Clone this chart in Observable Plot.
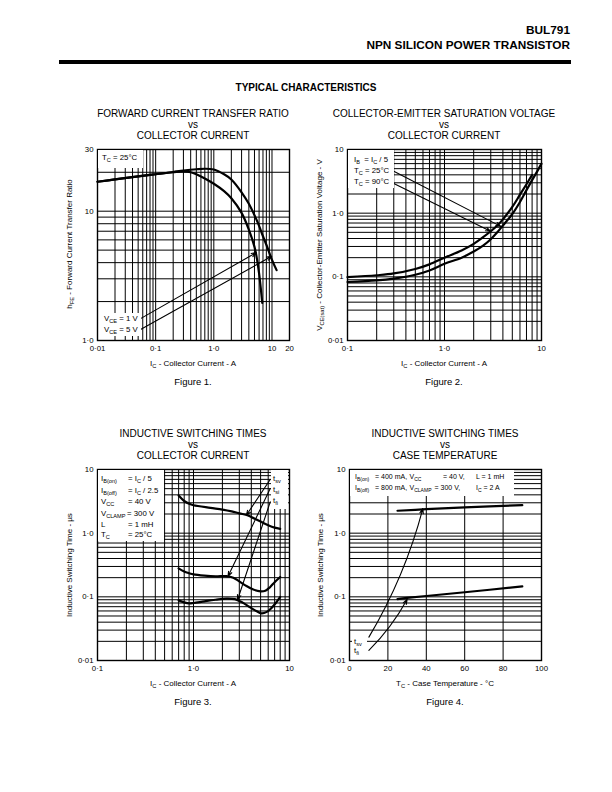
<!DOCTYPE html>
<html>
<head>
<meta charset="utf-8">
<script src="https://cdn.jsdelivr.net/npm/d3@7"></script>
<script src="https://cdn.jsdelivr.net/npm/@observablehq/plot@0.6"></script>
<style>
html,body{margin:0;padding:0;background:#fff}
#page{position:relative;width:612px;height:792px;overflow:hidden;font-family:"Liberation Sans",Arial,Helvetica,sans-serif;color:#000}
.t{position:absolute;white-space:nowrap;line-height:1.2}
sub{font-size:72%;vertical-align:-0.3em;line-height:0}
.box{position:absolute;background:#fff}
</style>
</head>
<body><div id="page"></div>
<script>
// ---------- Figure 1: hFE vs IC ----------
const fig1CurrentVce5 = [0.01, 0.02, 0.05, 0.1, 0.2, 0.3, 0.5, 0.7, 1.0, 1.5, 2.0, 3.0, 4.0, 5.0, 6.0, 7.0, 8.0, 10, 12];
const fig1HfeVce5     = [16.9, 17.6, 18.6, 19.3, 20.1, 20.6, 21.1, 21.3, 21.0, 19.3, 17.6, 14.0, 11.4, 9.3, 7.7, 6.4, 5.5, 4.2, 3.5];
const fig1CurrentVce1 = [0.01, 0.02, 0.05, 0.1, 0.2, 0.3, 0.4, 0.5, 0.7, 1.0, 1.5, 2.0, 3.0, 4.0, 5.0, 5.5, 6.0, 6.5, 6.8];
const fig1HfeVce1     = [16.9, 17.6, 18.6, 19.3, 20.0, 20.3, 20.0, 19.3, 17.9, 16.3, 14.3, 12.6, 9.7, 7.2, 5.3, 4.3, 3.3, 2.4, 1.95];
const fig1ArrowFrom = [[0.054, 1.47], [0.054, 1.21]];
const fig1ArrowTo   = [[5.35, 4.78], [9.9, 4.48]];
const fig1XTicks = [0.01, 0.1, 1, 10, 20];
const fig1XTickLabels = ["0·01", "0·1", "1·0", "10", "20"];
const fig1YTicks = [1, 10, 30];
const fig1YTickLabels = ["1·0", "10", "30"];

// ---------- Figure 2: VCE(sat) vs IC ----------
const fig2Current90 = [0.1, 0.2, 0.3, 0.5, 0.7, 1.0, 1.5, 2.0, 2.5, 3.0, 3.5, 4.0, 5.0, 6.0, 7.0, 8.0];
const fig2Vce90     = [0.099, 0.106, 0.113, 0.133, 0.157, 0.2, 0.26, 0.33, 0.42, 0.52, 0.64, 0.8, 1.25, 1.95, 2.85, 4.0];
const fig2Current25 = [0.1, 0.2, 0.3, 0.5, 0.7, 1.0, 1.5, 2.0, 2.5, 3.0, 3.5, 4.0, 5.0, 6.0, 7.0, 8.0, 9.0, 10];
const fig2Vce25     = [0.083, 0.088, 0.094, 0.108, 0.126, 0.16, 0.2, 0.25, 0.31, 0.39, 0.5, 0.64, 0.97, 1.5, 2.3, 3.3, 4.5, 6.0];
const fig2ArrowFrom = [[0.3, 4.56], [0.3, 2.92]];
const fig2ArrowTo   = [[3.8, 0.62], [2.98, 0.52]];
const fig2XTicks = [0.1, 1, 10];
const fig2XTickLabels = ["0·1", "1·0", "10"];
const fig2YTicks = [0.01, 0.1, 1, 10];
const fig2YTickLabels = ["0·01", "0·1", "1·0", "10"];

// ---------- Figure 3: switching times vs IC ----------
const fig3CurrentTsv = [0.7, 0.8, 0.9, 1.0, 1.5, 2.0, 2.5, 3.0, 3.7, 4.3, 5.0, 6.0, 7.0, 8.0];
const fig3Tsv        = [3.9, 3.2, 2.9, 2.75, 2.5, 2.35, 2.2, 2.05, 1.9, 1.7, 1.52, 1.33, 1.22, 1.17];
const fig3CurrentTsi = [0.7, 0.8, 0.9, 1.0, 1.3, 1.7, 2.2, 2.6, 3.0, 3.5, 4.2, 5.0, 5.6, 6.3, 7.0, 8.0];
const fig3Tsi        = [0.28, 0.25, 0.235, 0.225, 0.215, 0.21, 0.212, 0.2, 0.175, 0.15, 0.13, 0.122, 0.125, 0.143, 0.17, 0.205];
const fig3CurrentTfi = [0.7, 0.8, 0.9, 1.0, 1.3, 1.7, 2.2, 2.7, 3.2, 3.8, 4.5, 5.1, 5.8, 6.5, 7.2, 8.0];
const fig3Tfi        = [0.088, 0.082, 0.079, 0.08, 0.085, 0.09, 0.094, 0.092, 0.082, 0.07, 0.06, 0.055, 0.058, 0.067, 0.08, 0.1];
const fig3ArrowFrom = [[6.3, 6.97], [6.3, 5.02], [6.3, 3.1]];
const fig3ArrowTo   = [[3.55, 1.91], [2.29, 0.21], [2.88, 0.09]];
const fig3XTicks = [0.1, 1, 10];
const fig3XTickLabels = ["0·1", "1·0", "10"];
const fig3YTicks = [0.01, 0.1, 1, 10];
const fig3YTickLabels = ["0·01", "0·1", "1·0", "10"];

// ---------- Figure 4: switching times vs TC ----------
const fig4TempTsv = [25, 40, 60, 90];
const fig4Tsv     = [2.25, 2.38, 2.55, 2.75];
const fig4TempTfi = [25, 30, 40, 60, 90];
const fig4Tfi     = [0.092, 0.096, 0.103, 0.118, 0.146];
const fig4ArrowFrom = [[10.1, 0.0233], [10.1, 0.0144]];
const fig4ArrowTo   = [[38.2, 2.43], [30.0, 0.091]];
const fig4XTicks = [0, 20, 40, 60, 80, 100];
const fig4XTickLabels = ["0", "20", "40", "60", "80", "100"];
const fig4XGrid = [20, 40, 60, 80];
const fig4YTicks = [0.01, 0.1, 1, 10];
const fig4YTickLabels = ["0·01", "0·1", "1·0", "10"];

// ---------- helpers ----------
const page = document.getElementById("page");
const FONT = '"Liberation Sans", Arial, Helvetica, sans-serif';
const LS = 7.8;   // legend / annotation size
const AS = 8;     // axis title size

function text(html, x, cy, size, opts = {}) {
  const d = document.createElement("div");
  d.className = "t";
  d.innerHTML = html;
  d.style.fontSize = size + "px";
  d.style.top = (cy - 0.6 * size) + "px";
  if (opts.bold) d.style.fontWeight = "bold";
  const a = opts.anchor || "start";
  if (a === "start") d.style.left = x + "px";
  else if (a === "middle") { d.style.left = x + "px"; d.style.transform = "translateX(-50%)"; }
  else d.style.right = (612 - x) + "px";
  page.appendChild(d);
  return d;
}
function vtext(html, cx, cy, size) {
  const d = document.createElement("div");
  d.className = "t";
  d.innerHTML = html;
  d.style.fontSize = size + "px";
  d.style.left = cx + "px";
  d.style.top = cy + "px";
  d.style.transform = "translate(-50%,-50%) rotate(-90deg)";
  page.appendChild(d);
}
function box(x0, y0, x1, y1, color = "#fff") {
  const d = document.createElement("div");
  d.className = "box";
  Object.assign(d.style, {left: x0 + "px", top: y0 + "px", width: (x1 - x0) + "px", height: (y1 - y0) + "px", background: color});
  page.appendChild(d);
}
function logGrid(lo, hi) {
  const v = [];
  for (let e = Math.floor(Math.log10(lo)); e <= Math.ceil(Math.log10(hi)); e++)
    for (let m = 1; m < 10; m++) {
      const t = +(m * Math.pow(10, e)).toPrecision(3);
      if (t > lo * 1.0001 && t < hi * 0.9999) v.push(t);
    }
  return v;
}
function pts(xs, ys) { return xs.map((x, i) => ({x, y: ys[i]})); }
function arrows(from, to) { return from.map((f, i) => ({x1: f[0], y1: f[1], x2: to[i][0], y2: to[i][1]})); }
function fmt(vals, labels) { return d => labels[vals.findIndex(v => Math.abs(v - d) < 1e-9)]; }

function chart(cfg) {
  const mL = 45, mT = 12, mR = 25, mB = 22;
  const w = cfg.x1 - cfg.x0, h = cfg.y1 - cfg.y0;
  const xGrid = cfg.xGrid || logGrid(cfg.xDomain[0], cfg.xDomain[1]);
  const yGrid = logGrid(cfg.yDomain[0], cfg.yDomain[1]);
  const marks = [
    Plot.ruleX(xGrid, {stroke: "#000", strokeWidth: 1}),
    Plot.ruleY(yGrid, {stroke: "#000", strokeWidth: 1}),
    ...cfg.curves.map(c => Plot.line(c, {x: "x", y: "y", curve: "catmull-rom", stroke: "#000", strokeWidth: 2.2})),
    Plot.arrow(cfg.arrows, {x1: "x1", y1: "y1", x2: "x2", y2: "y2", stroke: "#000", strokeWidth: 1.1, headLength: 7, headAngle: 40, bend: cfg.bend || 0}),
    Plot.frame({stroke: "#000", strokeWidth: 1.4}),
    Plot.axisX({ticks: cfg.xTicks, tickFormat: fmt(cfg.xTicks, cfg.xLabels), tickSize: 0, tickPadding: 5, label: null}),
    Plot.axisY({ticks: cfg.yTicks, tickFormat: fmt(cfg.yTicks, cfg.yLabels), tickSize: 0, tickPadding: 4, label: null})
  ];
  const svg = Plot.plot({
    width: w + mL + mR, height: h + mT + mB,
    marginLeft: mL, marginTop: mT, marginRight: mR, marginBottom: mB,
    x: {type: cfg.xType || "log", domain: cfg.xDomain},
    y: {type: "log", domain: cfg.yDomain},
    style: {fontFamily: FONT, fontSize: "7.8px", color: "#000", background: "transparent", overflow: "visible"},
    marks
  });
  svg.style.position = "absolute";
  svg.style.left = (cfg.x0 - mL) + "px";
  svg.style.top = (cfg.y0 - mT) + "px";
  page.appendChild(svg);
}

// ---------- page header ----------
text("BUL791", 570, 30, 11.8, {bold: true, anchor: "end"});
text("NPN SILICON POWER TRANSISTOR", 570, 45, 11.8, {bold: true, anchor: "end"});
box(59, 59.5, 571, 63.5, "#000");
text("TYPICAL CHARACTERISTICS", 306, 88, 10, {bold: true, anchor: "middle"});

// ---------- Figure 1 ----------
const F1 = {x0: 97, y0: 149, x1: 289, y1: 340};
chart({...F1, xDomain: [0.01, 20], yDomain: [1, 30],
  xTicks: fig1XTicks, xLabels: fig1XTickLabels, yTicks: fig1YTicks, yLabels: fig1YTickLabels,
  curves: [pts(fig1CurrentVce5, fig1HfeVce5), pts(fig1CurrentVce1, fig1HfeVce1)],
  arrows: arrows(fig1ArrowFrom, fig1ArrowTo)});
["FORWARD CURRENT TRANSFER RATIO", "vs", "COLLECTOR CURRENT"].forEach((s, i) => text(s, 193, 114 + 11 * i, 10, {anchor: "middle"}));
box(98, 150, 143, 168);
text("T<sub>C</sub> = 25°C", 102, 158, LS);
box(102, 313, 141, 336);
text("V<sub>CE</sub> = 1 V", 104, 318.5, LS);
text("V<sub>CE</sub> = 5 V", 104, 329.5, LS);
vtext("h<sub>FE</sub> - Forward Current Transfer Ratio", 70, 244, AS);
text("I<sub>C</sub> - Collector Current - A", 193, 364, AS, {anchor: "middle"});
text("Figure 1.", 193, 382, 9.5, {anchor: "middle"});

// ---------- Figure 2 ----------
const F2 = {x0: 347, y0: 149, x1: 541, y1: 340};
chart({...F2, xDomain: [0.1, 10], yDomain: [0.01, 10],
  xTicks: fig2XTicks, xLabels: fig2XTickLabels, yTicks: fig2YTicks, yLabels: fig2YTickLabels,
  curves: [pts(fig2Current90, fig2Vce90), pts(fig2Current25, fig2Vce25)],
  arrows: arrows(fig2ArrowFrom, fig2ArrowTo)});
["COLLECTOR-EMITTER SATURATION VOLTAGE", "vs", "COLLECTOR CURRENT"].forEach((s, i) => text(s, 444, 114 + 11 * i, 10, {anchor: "middle"}));
box(348, 150, 394, 188);
text("I<sub>B</sub> &nbsp;= I<sub>C</sub> / 5", 354, 160, LS);
text("T<sub>C</sub> = 25°C", 354, 171, LS);
text("T<sub>C</sub> = 90°C", 354, 182, LS);
vtext("V<sub>CE(sat)</sub> - Collector-Emitter Saturation Voltage - V", 320, 245, AS);
text("I<sub>C</sub> - Collector Current - A", 444, 364, AS, {anchor: "middle"});
text("Figure 2.", 444, 382, 9.5, {anchor: "middle"});

// ---------- Figure 3 ----------
const F3 = {x0: 97, y0: 469, x1: 289, y1: 660};
chart({...F3, xDomain: [0.1, 10], yDomain: [0.01, 10],
  xTicks: fig3XTicks, xLabels: fig3XTickLabels, yTicks: fig3YTicks, yLabels: fig3YTickLabels,
  curves: [pts(fig3CurrentTsv, fig3Tsv), pts(fig3CurrentTsi, fig3Tsi), pts(fig3CurrentTfi, fig3Tfi)],
  arrows: arrows(fig3ArrowFrom, fig3ArrowTo)});
["INDUCTIVE SWITCHING TIMES", "vs", "COLLECTOR CURRENT"].forEach((s, i) => text(s, 193, 434 + 11 * i, 10, {anchor: "middle"}));
box(98, 470, 164, 541);
[["I<sub>B(on)</sub>", "= I<sub>C</sub> / 5", 128], ["I<sub>B(off)</sub>", "= I<sub>C</sub> / 2.5", 128], ["V<sub>CC</sub>", "= 40 V", 128],
 ["V<sub>CLAMP</sub>", "= 300 V", 127], ["L", "= 1 mH", 128], ["T<sub>C</sub>", "= 25°C", 128]].forEach((r, i) => {
  const cy = [479, 490.5, 502, 513.5, 524.5, 535][i];
  text(r[0], 101, cy, LS);
  text(r[1], r[2], cy, LS);
});
box(271, 470, 288, 509);
text("t<sub>sv</sub>", 273, 479, LS);
text("t<sub>si</sub>", 273, 490, LS);
text("t<sub>fi</sub>", 273, 501, LS);
vtext("Inductive Switching Time - µs", 70, 565, AS);
text("I<sub>C</sub> - Collector Current - A", 193, 684, AS, {anchor: "middle"});
text("Figure 3.", 193, 702, 9.5, {anchor: "middle"});

// ---------- Figure 4 ----------
const F4 = {x0: 349, y0: 469, x1: 541, y1: 660};
chart({...F4, xType: "linear", xDomain: [0, 100], yDomain: [0.01, 10], xGrid: fig4XGrid,
  xTicks: fig4XTicks, xLabels: fig4XTickLabels, yTicks: fig4YTicks, yLabels: fig4YTickLabels,
  curves: [pts(fig4TempTsv, fig4Tsv), pts(fig4TempTfi, fig4Tfi)],
  arrows: arrows(fig4ArrowFrom, fig4ArrowTo), bend: -8});
["INDUCTIVE SWITCHING TIMES", "vs", "CASE TEMPERATURE"].forEach((s, i) => text(s, 445, 434 + 11 * i, 10, {anchor: "middle"}));
box(350, 470, 514, 496);
const L4 = 7;
text("I<sub>B(on)</sub>", 355, 477, L4);  text("= 400 mA,", 375, 477, L4);
text("V<sub>CC</sub>", 409.5, 477, L4);    text("= 40 V,", 443, 477, L4);
text("L = 1 mH", 476, 477, L4);
text("I<sub>B(off)</sub>", 355, 488.5, L4); text("= 800 mA,", 375, 488.5, L4);
text("V<sub>CLAMP</sub>", 409.5, 488.5, L4); text("= 300 V,", 434.5, 488.5, L4);
text("I<sub>C</sub> = 2 A", 476, 488.5, L4);
box(352, 633, 367, 655);
text("t<sub>sv</sub>", 354, 641.5, LS);
text("t<sub>fi</sub>", 354, 651, LS);
vtext("Inductive Switching Time - µs", 321, 565, AS);
text("T<sub>C</sub> - Case Temperature - °C", 445, 684, AS, {anchor: "middle"});
text("Figure 4.", 445, 702, 9.5, {anchor: "middle"});
</script>
</body>
</html>
